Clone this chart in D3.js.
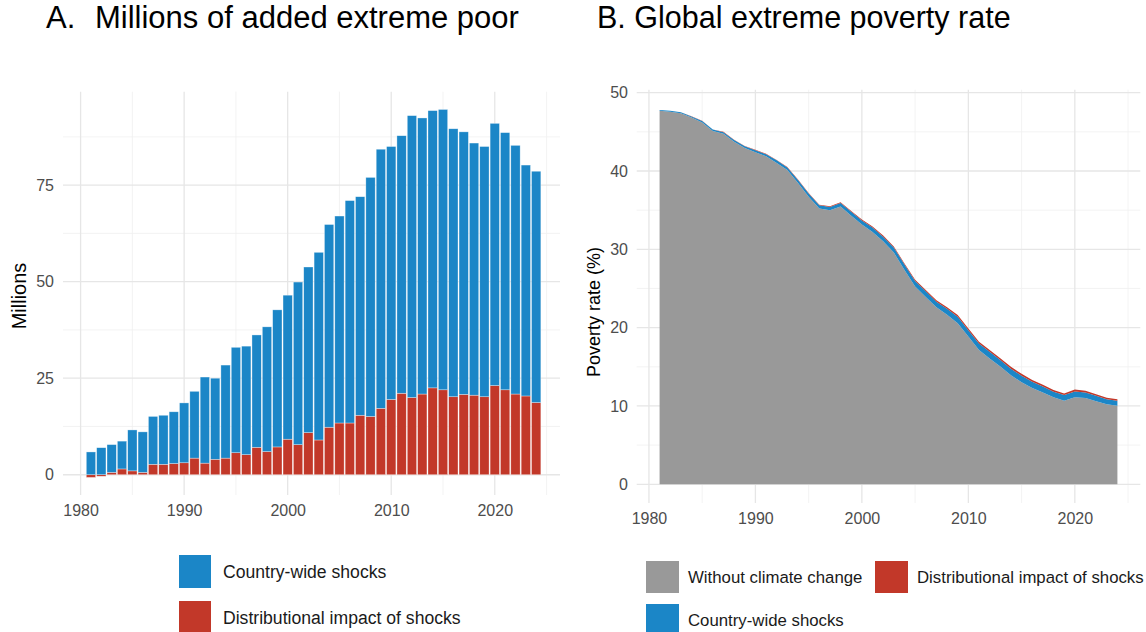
<!DOCTYPE html>
<html>
<head>
<meta charset="utf-8">
<script src="https://cdn.jsdelivr.net/npm/d3@7"></script>
<style>
  html, body { margin: 0; padding: 0; background: #ffffff; }
  svg { display: block; font-family: "Liberation Sans", Arial, sans-serif; }
</style>
</head>
<body>
<svg id="chart" width="1146" height="632"></svg>
<script>
// ---- Panel A: millions of added extreme poor, by year ----
const yearsA = d3.range(1981, 2025);
const countryWideM = [5.9, 7.0, 7.2, 7.2, 10.6, 10.5, 12.4, 12.7, 13.4, 15.5,
  17.3, 22.3, 21.0, 24.1, 27.3, 28.1, 29.1, 32.3, 35.5, 37.3,
  42.1, 42.9, 48.6, 52.5, 53.6, 57.6, 56.6, 61.9, 67.1, 65.5,
  66.7, 73.0, 71.5, 71.8, 72.6, 69.4, 68.0, 65.3, 64.8, 67.9,
  66.6, 64.4, 59.8, 59.9];
const distributionalM = [-0.7, -0.4, 0.6, 1.5, 1.0, 0.6, 2.7, 2.7, 2.9, 3.1,
  4.3, 3.0, 4.0, 4.3, 5.7, 5.2, 7.1, 6.0, 7.2, 9.2,
  7.8, 10.9, 9.0, 12.3, 13.4, 13.4, 15.4, 15.1, 17.2, 19.5,
  21.1, 20.0, 20.9, 22.5, 22.0, 20.2, 20.8, 20.6, 20.2, 23.1,
  22.0, 20.9, 20.4, 18.7];
const yTicksA = [0, 25, 50, 75];
const xTicks = [1980, 1990, 2000, 2010, 2020];

// ---- Panel B: global extreme poverty rate (%) ----
const yearsB = d3.range(1981, 2025);
const withoutClimate = [47.69, 47.57, 47.36, 46.84, 46.19, 45.11, 44.75, 43.75, 42.94, 42.40,
  41.87, 41.01, 40.12, 38.48, 36.71, 35.22, 34.98, 35.46, 34.30, 33.16,
  32.22, 31.03, 29.59, 27.36, 25.24, 23.90, 22.61, 21.65, 20.57, 18.88,
  17.15, 16.06, 15.03, 13.92, 13.03, 12.29, 11.71, 11.10, 10.68, 11.12,
  11.01, 10.60, 10.23, 10.04];
const countryWidePts = [0.11, 0.13, 0.13, 0.13, 0.19, 0.18, 0.21, 0.21, 0.22, 0.25,
  0.27, 0.35, 0.32, 0.36, 0.41, 0.41, 0.42, 0.46, 0.50, 0.52,
  0.58, 0.58, 0.65, 0.69, 0.70, 0.74, 0.71, 0.77, 0.83, 0.80,
  0.81, 0.87, 0.84, 0.83, 0.83, 0.79, 0.77, 0.73, 0.71, 0.74,
  0.72, 0.69, 0.63, 0.63];
const distributionalPts = [0.00, 0.00, 0.01, 0.03, 0.02, 0.01, 0.04, 0.04, 0.04, 0.05,
  0.06, 0.04, 0.06, 0.06, 0.08, 0.07, 0.10, 0.08, 0.10, 0.12,
  0.10, 0.14, 0.11, 0.15, 0.16, 0.16, 0.18, 0.18, 0.20, 0.22,
  0.24, 0.22, 0.23, 0.25, 0.24, 0.22, 0.22, 0.22, 0.21, 0.24,
  0.22, 0.21, 0.20, 0.18];
const yTicksB = [0, 10, 20, 30, 40, 50];

const COL_BLUE = "#1b86c7";
const COL_RED = "#c23829";
const COL_GREY = "#999999";
const GRID_MAJOR = "#e6e6e6";
const GRID_MINOR = "#f0f0f0";
const TICK_TEXT = "#4d4d4d";

const svg = d3.select("#chart");

function drawGrid(g, x, y, xMajor, xMinor, yMajor, yMinor) {
  const [x0, x1] = x.range();
  const [y0, y1] = y.range();
  g.selectAll(".ygmin").data(yMinor).join("line")
    .attr("x1", x0).attr("x2", x1)
    .attr("y1", d => y(d)).attr("y2", d => y(d))
    .attr("stroke", GRID_MINOR).attr("stroke-width", 0.8);
  g.selectAll(".xgmin").data(xMinor).join("line")
    .attr("y1", y0).attr("y2", y1)
    .attr("x1", d => x(d)).attr("x2", d => x(d))
    .attr("stroke", GRID_MINOR).attr("stroke-width", 0.8);
  g.selectAll(".ygmaj").data(yMajor).join("line")
    .attr("x1", x0).attr("x2", x1)
    .attr("y1", d => y(d)).attr("y2", d => y(d))
    .attr("stroke", GRID_MAJOR).attr("stroke-width", 1.3);
  g.selectAll(".xgmaj").data(xMajor).join("line")
    .attr("y1", y0).attr("y2", y1)
    .attr("x1", d => x(d)).attr("x2", d => x(d))
    .attr("stroke", GRID_MAJOR).attr("stroke-width", 1.3);
}

function styleAxis(sel) {
  sel.select(".domain").remove();
  sel.selectAll(".tick line").remove();
  sel.selectAll(".tick text")
    .attr("fill", TICK_TEXT)
    .style("font-size", "16px")
    .style("font-family", "'Liberation Sans', Arial, sans-serif");
}

// ================= Panel A =================
{
  const x = d3.scaleLinear().domain([1978.3, 2026.3]).range([63, 560]);
  const y = d3.scaleLinear().domain([-5.25, 99.2]).range([495, 91.7]);

  const gridG = svg.append("g");
  drawGrid(gridG, x, y,
    xTicks, [1985, 1995, 2005, 2015, 2025],
    yTicksA, [12.5, 37.5, 62.5, 87.5]);

  const rows = yearsA.map((yr, i) => ({
    year: yr, distributional: distributionalM[i], country: countryWideM[i]
  }));
  const stack = d3.stack()
    .keys(["distributional", "country"])
    .offset(d3.stackOffsetDiverging);
  const series = stack(rows);
  const colors = { distributional: COL_RED, country: COL_BLUE };
  const barW = (x(1) - x(0)) * 0.9;

  svg.append("g").selectAll("g").data(series).join("g")
    .attr("fill", s => colors[s.key])
    .selectAll("rect").data(s => s).join("rect")
      .attr("x", d => x(d.data.year) - barW / 2)
      .attr("width", barW)
      .attr("y", d => y(Math.max(d[0], d[1])))
      .attr("height", d => Math.abs(y(d[0]) - y(d[1])))
      .attr("stroke", "#ffffff")
      .attr("stroke-opacity", 0.55)
      .attr("stroke-width", 0.6);

  const yAxis = svg.append("g").attr("transform", "translate(54,0)")
    .call(d3.axisLeft(y).tickValues(yTicksA).tickSize(0).tickPadding(0).tickFormat(d3.format("d")));
  styleAxis(yAxis);

  const xAxis = svg.append("g").attr("transform", "translate(0,505)")
    .call(d3.axisBottom(x).tickValues(xTicks).tickSize(0).tickPadding(0).tickFormat(d3.format("d")));
  styleAxis(xAxis);

  svg.append("text")
    .attr("transform", "translate(26,296) rotate(-90)")
    .attr("text-anchor", "middle")
    .style("font-size", "20px").attr("fill", "#000")
    .text("Millions");

  // panel heading: letter and title
  svg.append("text")
    .attr("x", 46).attr("y", 28)
    .style("font-size", "31px").attr("fill", "#000")
    .text("A.");
  svg.append("text")
    .attr("x", 95).attr("y", 28)
    .style("font-size", "31px").attr("fill", "#000")
    .text("Millions of added extreme poor");

  // legend
  const legA = [
    { label: "Country-wide shocks", color: COL_BLUE, x: 179, y: 555 },
    { label: "Distributional impact of shocks", color: COL_RED, x: 179, y: 601 }
  ];
  const lg = svg.append("g").selectAll("g").data(legA).join("g")
    .attr("transform", d => `translate(${d.x},${d.y})`);
  lg.append("rect").attr("width", 32).attr("height", 33).attr("fill", d => d.color);
  lg.append("text").attr("x", 44).attr("y", 17).attr("dy", "0.35em")
    .style("font-size", "17.6px").attr("fill", "#1a1a1a").text(d => d.label);
}

// ================= Panel B =================
{
  const x = d3.scaleLinear().domain([1978.85, 2026.15]).range([636.7, 1140.3]);
  const y = d3.scaleLinear().domain([-2.39, 50.38]).range([503, 89.7]);

  const gridG = svg.append("g");
  drawGrid(gridG, x, y,
    xTicks, [1985, 1995, 2005, 2015, 2025],
    yTicksB, [5, 15, 25, 35, 45]);

  const rows = yearsB.map((yr, i) => ({
    year: yr,
    without: withoutClimate[i],
    country: countryWidePts[i],
    distributional: distributionalPts[i]
  }));
  const stack = d3.stack().keys(["without", "country", "distributional"]);
  const series = stack(rows);
  const colors = { without: COL_GREY, country: COL_BLUE, distributional: COL_RED };

  const area = d3.area()
    .x(d => x(d.data.year))
    .y0(d => y(d[0]))
    .y1(d => y(d[1]));

  svg.append("g").selectAll("path").data(series).join("path")
    .attr("d", area)
    .attr("fill", s => colors[s.key]);

  const yAxis = svg.append("g").attr("transform", "translate(628,0)")
    .call(d3.axisLeft(y).tickValues(yTicksB).tickSize(0).tickPadding(0).tickFormat(d3.format("d")));
  styleAxis(yAxis);

  const xAxis = svg.append("g").attr("transform", "translate(0,513)")
    .call(d3.axisBottom(x).tickValues(xTicks).tickSize(0).tickPadding(0).tickFormat(d3.format("d")));
  styleAxis(xAxis);

  svg.append("text")
    .attr("transform", "translate(600,312) rotate(-90)")
    .attr("text-anchor", "middle")
    .style("font-size", "18px").attr("fill", "#000")
    .text("Poverty rate (%)");

  svg.append("text")
    .attr("x", 597).attr("y", 28)
    .style("font-size", "30.5px").attr("fill", "#000")
    .text("B. Global extreme poverty rate");

  const legB = [
    { label: "Without climate change", color: COL_GREY, x: 646, y: 561 },
    { label: "Distributional impact of shocks", color: COL_RED, x: 875, y: 561 },
    { label: "Country-wide shocks", color: COL_BLUE, x: 646, y: 604 }
  ];
  const lg = svg.append("g").selectAll("g").data(legB).join("g")
    .attr("transform", d => `translate(${d.x},${d.y})`);
  lg.append("rect").attr("width", 33).attr("height", 32).attr("fill", d => d.color);
  lg.append("text").attr("x", 42).attr("y", 16).attr("dy", "0.35em")
    .style("font-size", "16.8px").attr("fill", "#1a1a1a").text(d => d.label);
}
</script>
</body>
</html>
